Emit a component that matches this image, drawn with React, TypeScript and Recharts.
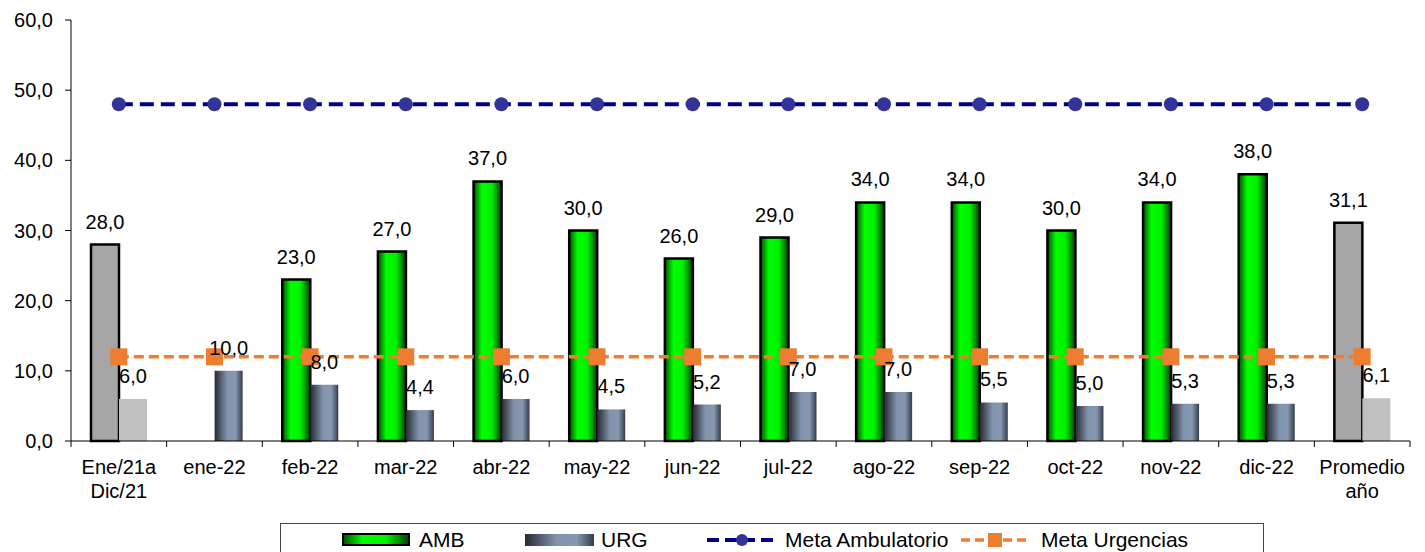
import React from "react";
import {
  ComposedChart,
  Bar,
  Line,
  XAxis,
  YAxis,
  Cell,
  LabelList,
} from "recharts";

// categorías y valores
const categories = [
  "Ene/21a\nDic/21",
  "ene-22",
  "feb-22",
  "mar-22",
  "abr-22",
  "may-22",
  "jun-22",
  "jul-22",
  "ago-22",
  "sep-22",
  "oct-22",
  "nov-22",
  "dic-22",
  "Promedio\naño",
];
const ambValues = [28, null, 23, 27, 37, 30, 26, 29, 34, 34, 30, 34, 38, 31.1];
const urgValues = [6, 10, 8, 4.4, 6, 4.5, 5.2, 7, 7, 5.5, 5, 5.3, 5.3, 6.1];
const metaAmbValues = [48, 48, 48, 48, 48, 48, 48, 48, 48, 48, 48, 48, 48, 48];
const metaUrgValues = [12, 12, 12, 12, 12, 12, 12, 12, 12, 12, 12, 12, 12, 12];
const summaryFlags = [true, false, false, false, false, false, false, false, false, false, false, false, false, true];
const yTicks = [0, 10, 20, 30, 40, 50, 60];

const data = categories.map((name, i) => ({
  name,
  amb: ambValues[i],
  urg: urgValues[i],
  metaAmb: metaAmbValues[i],
  metaUrg: metaUrgValues[i],
  summary: summaryFlags[i],
}));

const FONT = '"Liberation Sans", Arial, sans-serif';
const NAVY = "#000080";
const NAVY_DOT = "#333399";
const ORANGE = "#ED7D31";

const fmt = (v: any) =>
  v === null || v === undefined ? "" : Number(v).toFixed(1).replace(".", ",");

const XTick = (props: any) => {
  const { x, y, payload, index } = props;
  const half = payload.offset || 1339 / categories.length / 2;
  const lines = String(payload.value).split("\n");
  return (
    <g>
      {index === 0 && (
        <line x1={x - half} y1={y} x2={x - half} y2={y + 6} stroke="#000" />
      )}
      <line x1={x + half} y1={y} x2={x + half} y2={y + 6} stroke="#000" />
      <text x={x} y={y + 33} textAnchor="middle" fontSize={20} fontFamily={FONT} fill="#000">
        {lines.map((l, i) => (
          <tspan key={i} x={x} dy={i === 0 ? 0 : 24}>
            {l}
          </tspan>
        ))}
      </text>
    </g>
  );
};

const SquareDot = (p: any) => (
  <rect key={p.index} x={p.cx - 8.5} y={p.cy - 8.5} width={17} height={17} fill={ORANGE} />
);

const LegendBox = () => (
  <div
    style={{
      position: "absolute",
      left: 280,
      top: 523,
      width: 982,
      height: 40,
      border: "1px solid #444",
      background: "#fff",
    }}
  >
    <svg width={982} height={40} style={{ position: "absolute", left: 0, top: 0 }}>
      <rect x={62} y={10} width={66} height={11} fill="url(#gAmb)" stroke="#000" strokeWidth={2} />
      <rect x={244} y={10} width={69} height={12} fill="url(#gUrg)" />
      <line x1={426} y1={16} x2={496} y2={16} stroke={NAVY} strokeWidth={4} strokeDasharray="12 6" />
      <circle cx={461} cy={16} r={6} fill={NAVY_DOT} />
      <line x1={680} y1={16} x2={750} y2={16} stroke={ORANGE} strokeWidth={3.5} strokeDasharray="9 5" />
      <rect x={707} y={9} width={14} height={14} fill={ORANGE} />
      <text x={138} y={23} fontSize={21} fontFamily={FONT}>AMB</text>
      <text x={320} y={23} fontSize={21} fontFamily={FONT}>URG</text>
      <text x={504} y={23} fontSize={21} fontFamily={FONT}>Meta Ambulatorio</text>
      <text x={760} y={23} fontSize={21} fontFamily={FONT}>Meta Urgencias</text>
    </svg>
  </div>
);

export default function App() {
  return (
    <div style={{ position: "relative", width: 1425, height: 552, overflow: "hidden", background: "#fff" }}>
      <style>{`body{margin:0}`}</style>
      <ComposedChart
        width={1425}
        height={552}
        data={data}
        margin={{ top: 20, right: 15, left: 0, bottom: 0 }}
        barGap={0}
      >
        <defs>
          <linearGradient id="gAmb" x1="0" y1="0" x2="1" y2="0">
            <stop offset="0%" stopColor="#004d00" />
            <stop offset="30%" stopColor="#00ff00" />
            <stop offset="65%" stopColor="#00f000" />
            <stop offset="100%" stopColor="#004000" />
          </linearGradient>
          <linearGradient id="gUrg" x1="0" y1="0" x2="1" y2="0">
            <stop offset="0%" stopColor="#262a31" />
            <stop offset="45%" stopColor="#8193ad" />
            <stop offset="75%" stopColor="#8597b1" />
            <stop offset="100%" stopColor="#363c48" />
          </linearGradient>
        </defs>
        <XAxis
          dataKey="name"
          height={111}
          interval={0}
          axisLine={{ stroke: "#000" }}
          tickLine={false}
          tickSize={0}
          tickMargin={0}
          tick={<XTick />}
        />
        <YAxis
          width={71}
          domain={[0, 60]}
          ticks={yTicks}
          interval={0}
          axisLine={{ stroke: "#000" }}
          tickLine={{ stroke: "#000" }}
          tickSize={6}
          tickMargin={12}
          tickFormatter={fmt}
          tick={{ fontSize: 20, fontFamily: FONT, fill: "#000" }}
        />
        <Bar dataKey="amb" barSize={28} stroke="#000" strokeWidth={2.5} isAnimationActive={false}>
          {data.map((d, i) => (
            <Cell key={i} fill={d.summary ? "#a6a6a6" : "url(#gAmb)"} />
          ))}
          <LabelList
            dataKey="amb"
            position="top"
            offset={16}
            formatter={fmt}
            style={{ fontSize: 20, fontFamily: FONT, fill: "#000" }}
          />
        </Bar>
        <Bar dataKey="urg" barSize={28} isAnimationActive={false}>
          {data.map((d, i) => (
            <Cell key={i} fill={d.summary ? "#c0c0c0" : "url(#gUrg)"} />
          ))}
          <LabelList
            dataKey="urg"
            position="top"
            offset={16}
            formatter={fmt}
            style={{ fontSize: 20, fontFamily: FONT, fill: "#000" }}
          />
        </Bar>
        <Line
          dataKey="metaAmb"
          stroke={NAVY}
          strokeWidth={4}
          strokeDasharray="14 7"
          dot={{ r: 7, fill: NAVY_DOT, stroke: NAVY_DOT, strokeWidth: 0 }}
          activeDot={false}
          isAnimationActive={false}
        />
        <Line
          dataKey="metaUrg"
          stroke={ORANGE}
          strokeWidth={3.5}
          strokeDasharray="10 5"
          dot={SquareDot}
          activeDot={false}
          isAnimationActive={false}
        />
      </ComposedChart>
      <LegendBox />
    </div>
  );
}
